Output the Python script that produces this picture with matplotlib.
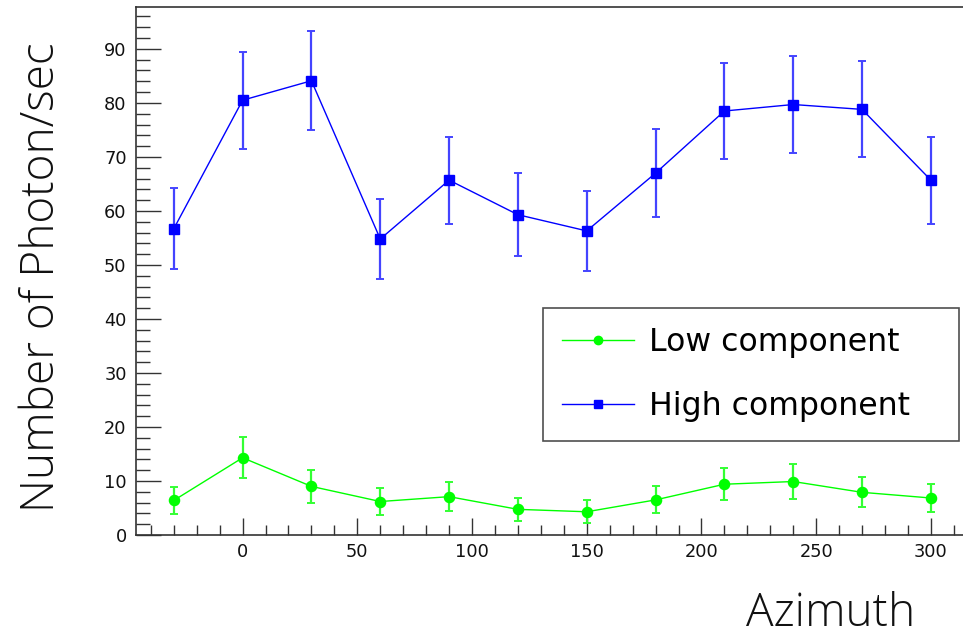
import matplotlib
matplotlib.use("Agg")
import matplotlib.pyplot as plt
from matplotlib.ticker import MultipleLocator

azimuth = [-30, 0, 30, 60, 90, 120, 150, 180, 210, 240, 270, 300]
low_vals = [6.4, 14.3, 9.0, 6.2, 7.1, 4.75, 4.3, 6.5, 9.4, 9.9, 7.9, 6.85]
low_errs = [2.5, 3.8, 3.0, 2.5, 2.65, 2.1, 2.1, 2.5, 3.0, 3.2, 2.8, 2.6]
high_vals = [56.7, 80.5, 84.1, 54.8, 65.7, 59.3, 56.3, 67.0, 78.5, 79.7, 78.8, 65.7]
high_errs = [7.5, 9.0, 9.2, 7.45, 8.05, 7.7, 7.4, 8.2, 8.8, 8.95, 8.9, 8.05]
x_ticks = [0, 50, 100, 150, 200, 250, 300]
y_ticks = [0, 10, 20, 30, 40, 50, 60, 70, 80, 90]
labels = ["Low component", "High component"]

W, H = 963, 637
fig = plt.figure(figsize=(W / 100, H / 100), dpi=100)
ax = fig.add_axes([135.7 / W, (H - 535) / H, 1 - 135.7 / W, (535 - 7.3) / H])

c_low = ax.errorbar(azimuth, low_vals, yerr=low_errs, color="#00ff00", ecolor="#33ff33",
                    lw=1.0, elinewidth=1.6, capsize=2.6, capthick=1.4, marker="o",
                    markersize=7.3, label=labels[0], zorder=3)
c_high = ax.errorbar(azimuth, high_vals, yerr=high_errs, color="#0000ff", ecolor="#4444ff",
                     lw=1.0, elinewidth=1.6, capsize=2.6, capthick=1.4, marker="s",
                     markersize=7.0, label=labels[1], zorder=3)

ax.set_xlim(-46.6, 314)
ax.set_ylim(0, 97.7)
ax.set_xticks(x_ticks)
ax.set_yticks(y_ticks)
ax.xaxis.set_minor_locator(MultipleLocator(10))
ax.yaxis.set_minor_locator(MultipleLocator(2))

ax.tick_params(axis="x", which="major", direction="in", length=12, width=1.0,
               color="#333333", labelsize=12.8, pad=6)
ax.tick_params(axis="x", which="minor", direction="in", length=7, width=1.0, color="#333333")
ax.tick_params(axis="y", which="major", direction="in", length=18, width=1.0,
               color="#333333", labelsize=12.8, pad=6.5)
ax.tick_params(axis="y", which="minor", direction="in", length=10, width=1.0, color="#333333")
for lab in ax.get_xticklabels() + ax.get_yticklabels():
    lab.set_color("#111111")

ax.spines["right"].set_visible(False)
for s in ["left", "bottom", "top"]:
    ax.spines[s].set_color("#333333")
    ax.spines[s].set_linewidth(1.2)

leg = ax.legend(handles=[c_low[0], c_high[0]], labels=labels,
                loc="upper left", mode="expand",
                bbox_to_anchor=(543 / W, (H - 439) / H, 416 / W, 131 / H),
                bbox_transform=fig.transFigure, borderaxespad=0,
                fancybox=False, frameon=True, edgecolor="#222222",
                fontsize=22.7, handlelength=2.3, handletextpad=0.45,
                borderpad=0.6, labelspacing=1.05, numpoints=1)
leg.get_frame().set_linewidth(1.2)
for h in leg.legend_handles:
    h.set_markersize(6.0)

title_font = dict(family=["Open Sans", "DejaVu Sans"], weight="light", fontsize=33, color="#111111")
fig.text(831 / W, (H - 626) / H, "Azimuth", ha="center", va="baseline", **title_font)
fig.text(42 / W, 1 - 277 / H, "Number of Photon/sec", rotation=90, ha="center", va="center", **title_font)

fig.savefig("out.png", dpi=100)
